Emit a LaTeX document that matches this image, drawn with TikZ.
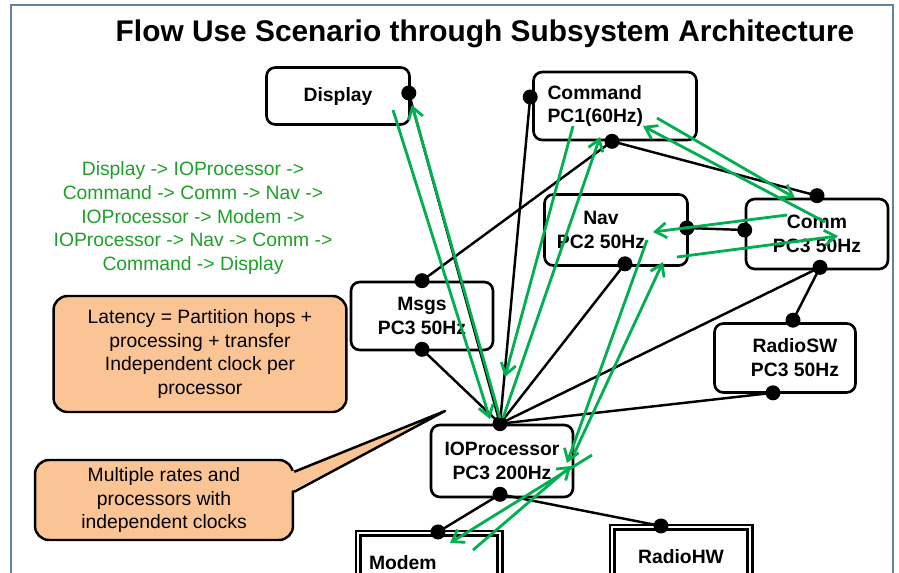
\documentclass[tikz,border=0pt]{standalone}
\usepackage{fontspec}
\setmainfont{Liberation Sans}
\usetikzlibrary{arrows.meta, calc}

\definecolor{flowgreen}{RGB}{0,176,80}
\definecolor{notegreen}{RGB}{30,160,40}
\definecolor{noteorange}{RGB}{250,196,148}
\definecolor{framegray}{RGB}{100,130,160}

\begin{document}
\begin{tikzpicture}[
  x=0.02cm, y=-0.02cm,
  sub/.style={draw, line width=1.5pt, rounded corners=5pt, fill=white, minimum width=2.84cm, minimum height=1.38cm, align=center, font=\bfseries\fontsize{11}{13.6}\selectfont},
  hw/.style={draw, double, double distance=1.6pt, line width=1.2pt, fill=white, minimum width=2.84cm, minimum height=1.2cm, font=\bfseries\fontsize{11}{13.6}\selectfont},
  note/.style={draw, line width=1.4pt, rounded corners=8pt, fill=noteorange, align=center, font=\fontsize{11}{13.4}\selectfont},
  port/.style={circle, fill=black, inner sep=0pt, minimum size=0.3cm},
  link/.style={line width=1.4pt},
  flow/.style={flowgreen, line width=1.6pt, -{Straight Barb[length=2.2mm, width=3mm]}}
]
\useasboundingbox (0,0) rectangle (899,572);
\clip (0,0) rectangle (899,572);
\draw[framegray, line width=0.6pt] (11,5) rectangle (893,640);

\node[font=\bfseries\fontsize{17}{20}\selectfont, anchor=base] (title) at (485,41) {Flow Use Scenario through Subsystem Architecture};

\node[sub, minimum width=2.86cm, minimum height=1.14cm] (disp) at (338,96) {Display};
\node[sub, minimum width=3.26cm, minimum height=1.36cm, text width=2.7cm, align=left] (cmd) at (615,106) {Command\\PC1(60Hz)};
\node[sub, minimum width=2.86cm, minimum height=1.42cm] (nav) at (616,230) {Nav\hspace*{0.6cm}\\PC2 50Hz\hspace*{0.6cm}};
\node[sub, minimum height=1.40cm] (comm) at (817,234) {Comm\\PC3 50Hz};
\node[sub, minimum height=1.36cm] (msgs) at (422,316) {Msgs\\PC3 50Hz};
\node[sub, minimum width=2.82cm] (rsw) at (785,358) {\hspace*{0.4cm}RadioSW\\\hspace*{0.4cm}PC3 50Hz};
\node[sub, minimum height=1.44cm] (io) at (502,461) {IOProcessor\\PC3 200Hz};
\node[hw, text width=2.4cm, align=left] (modem) at (429,563) {Modem};
\node[hw, minimum width=2.76cm] (rhw) at (681,557) {RadioHW};

\node[align=center, text=notegreen, font=\fontsize{11}{13.6}\selectfont] (route) at (193,218) {Display -> IOProcessor ->\\Command -> Comm -> Nav ->\\IOProcessor -> Modem ->\\IOProcessor -> Nav -> Comm ->\\Command -> Display};

\node[note, minimum width=5.86cm, minimum height=2.32cm] (lat) at (200,354) {Latency = Partition hops +\\processing + transfer\\Independent clock per\\processor};
\node[note, minimum width=5.16cm, minimum height=1.6cm] (multi) at (164,500) {Multiple rates and\\processors with\\independent clocks};
\coordinate (tip) at (445,411);
\fill[noteorange] ($(multi.north east)+(-4,13)$) -- (tip) -- ($(multi.north east)+(-4,33)$) -- cycle;
\draw[line width=1.4pt, line join=round] ($(multi.north east)+(0,13)$) -- (tip) -- ($(multi.north east)+(0,33)$);

% ports on the box borders
\coordinate (dispP) at ($(disp.east)+(-2,-3)$);
\coordinate (cmdW) at ($(cmd.west)+(-2,-9)$);
\coordinate (cmdS) at ($(cmd.south)+(-3,0)$);
\coordinate (navE) at ($(nav.east)+(-2,-2)$);
\coordinate (navS) at ($(nav.south)+(9,-3)$);
\coordinate (commN) at ($(comm.north)+(0,-2)$);
\coordinate (commW) at ($(comm.west)+(0,-4)$);
\coordinate (commS) at ($(comm.south)+(3,-3)$);
\coordinate (msgsN) at (msgs.north);
\coordinate (msgsS) at ($(msgs.south)+(0,-2)$);
\coordinate (rswN) at ($(rsw.north)+(8,-2)$);
\coordinate (rswS) at ($(rsw.south)+(-12,-1)$);
\coordinate (ioN) at ($(io.north)+(-2,0)$);
\coordinate (ioS) at ($(io.south)+(-2,-4)$);
\coordinate (modemN) at ($(modem.north)+(9,0)$);
\coordinate (rhwN) at ($(rhw.north)+(-20,0)$);

\draw[link] (dispP) -- (ioN);
\draw[link] (cmdW) -- (ioN);
\draw[link] (cmdS) -- (msgsN);
\draw[link] (cmdS) -- (commN);
\draw[link] (navE) -- (commW);
\draw[link] (navS) -- (ioN);
\draw[link] (commS) -- (rswN);
\draw[link] (commS) -- (ioN);
\draw[link] (rswS) -- (ioN);
\draw[link] (msgsS) -- (ioN);
\draw[link] (ioS) -- (modemN);
\draw[link] (ioS) -- (rhwN);

\foreach \p in {dispP, cmdW, cmdS, navE, navS, commN, commW, commS, msgsN, msgsS, rswN, rswS, ioN, ioS, modemN, rhwN}
  \node[port] at (\p) {};

% scenario hops
\coordinate (dispOut) at (393,110);
\coordinate (ioInA) at (490,419);
\coordinate (ioOutA) at (503,418);
\coordinate (cmdInA) at (600,137);
\coordinate (cmdOutA) at (657,118);
\coordinate (commInA) at (795,198);
\coordinate (commOutA) at (787,215);
\coordinate (navInA) at (653,232);
\coordinate (navOutA) at (647,240);
\coordinate (ioInB) at (567,463);
\coordinate (ioOutB) at (592,455);
\coordinate (modemIn) at (450,543);
\coordinate (modemOut) at (473,550);
\coordinate (ioInC) at (571,466);
\coordinate (ioOutC) at (574,454);
\coordinate (navInB) at (663,262);
\coordinate (navOutB) at (677,257);
\coordinate (commInB) at (838,236);
\coordinate (commOutB) at (825,222);
\coordinate (cmdInB) at (643,126);
\coordinate (cmdOutB) at (573,126);
\coordinate (ioInD) at (505,377);
\coordinate (ioOutD) at (500,418);
\coordinate (dispIn) at (412,105);

\draw[flow] (dispOut) -- (ioInA);
\draw[flow] (ioOutA) -- (cmdInA);
\draw[flow] (cmdOutA) -- (commInA);
\draw[flow] (commOutA) -- (navInA);
\draw[flow] (navOutA) -- (ioInB);
\draw[flow] (ioOutB) -- (modemIn);
\draw[flow] (modemOut) -- (ioInC);
\draw[flow] (ioOutC) -- (navInB);
\draw[flow] (navOutB) -- (commInB);
\draw[flow] (commOutB) -- (cmdInB);
\draw[flow] (cmdOutB) -- (ioInD);
\draw[flow] (ioOutD) -- (dispIn);
\end{tikzpicture}
\end{document}
